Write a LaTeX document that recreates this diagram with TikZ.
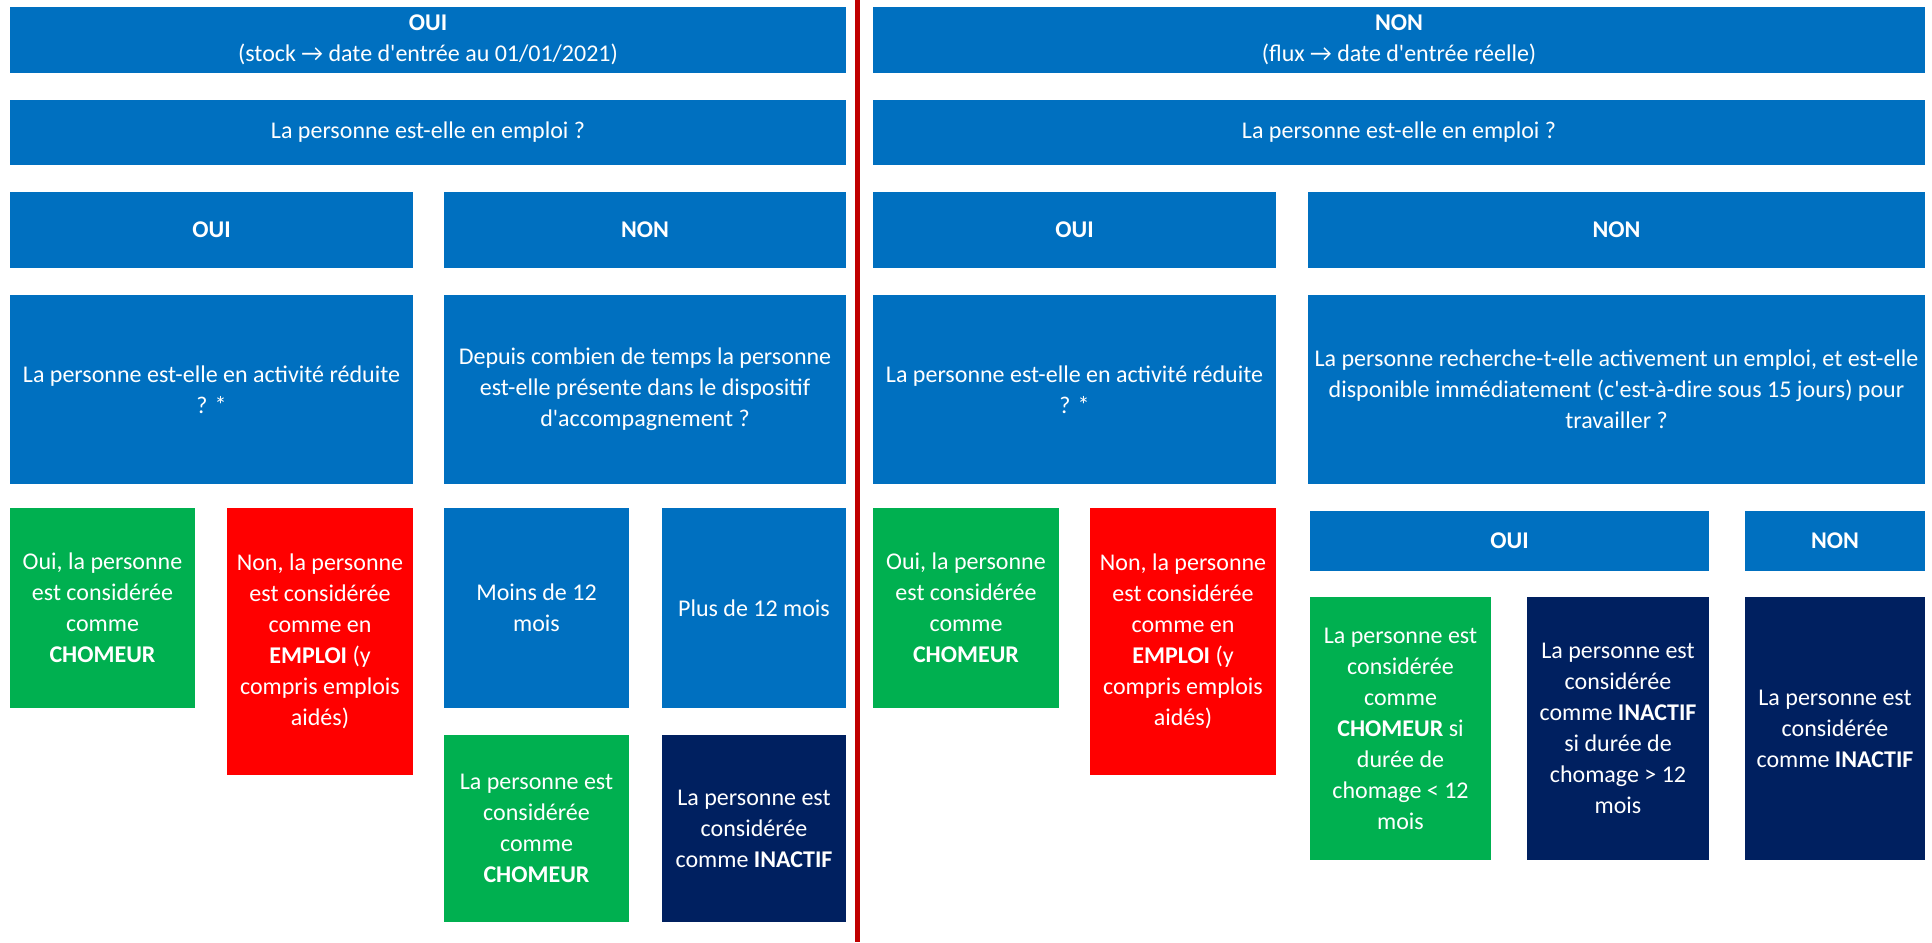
\documentclass[tikz,border=0pt]{standalone}
\usepackage{fontspec}
\setmainfont{Carlito}[Ligatures=TeXReset]
\newfontfamily\symbfont{DejaVu Sans}
\definecolor{bleuB}{HTML}{0070C0}
\definecolor{vertB}{HTML}{00B050}
\definecolor{rougeB}{HTML}{FF0000}
\definecolor{marineB}{HTML}{002060}
\definecolor{rougeT}{HTML}{C00000}
\tikzset{
  boite/.style n args={2}{inner sep=0pt,text=white,align=center,
    font=\fontsize{12}{15.5}\selectfont,minimum width=#1,minimum height=#2},
}

\begin{document}
\begin{tikzpicture}[x=0.5pt,y=-0.5pt]
  \useasboundingbox (0,0) rectangle (1932,942);
  % partie gauche : stock
  \node[boite={418pt}{33pt},fill=bleuB] (titreOui) at (428,40)
    {\textbf{OUI}\\(stock → date d'entrée au 01/01/2021)};
  \node[boite={418pt}{32.5pt},fill=bleuB] (emploiQg) at (428,132.5)
    {La personne est-elle en emploi ?};
  \node[boite={201.5pt}{38pt},fill=bleuB] (ouiG) at (211.5,230) {\textbf{OUI}};
  \node[boite={201pt}{38pt},fill=bleuB] (nonG) at (645,230) {\textbf{NON}};
  \node[boite={201.5pt}{94.5pt},fill=bleuB] (activG) at (211.5,389.5)
    {La personne est-elle en activité réduite\\? *};
  \node[boite={201pt}{94.5pt},fill=bleuB] (dureeG) at (645,389.5)
    {Depuis combien de temps la personne\\est-elle présente dans le dispositif\\d'accompagnement ?};
  \node[boite={92.5pt}{100pt},fill=vertB] (chomG) at (102.5,608)
    {Oui, la personne\\est considérée\\comme\\\textbf{CHOMEUR}};
  \node[boite={93pt}{133.5pt},fill=rougeB] (empG) at (320,641.5)
    {Non, la personne\\est considérée\\comme en\\\textbf{EMPLOI} (y\\compris emplois\\aidés)};
  \node[boite={92.5pt}{100pt},fill=bleuB] (moins) at (536.5,608) {Moins de 12\\mois};
  \node[boite={92pt}{100pt},fill=bleuB] (plus) at (754,608) {Plus de 12 mois};
  \node[boite={92.5pt}{93.5pt},fill=vertB] (chomMoins) at (536.5,828.5)
    {La personne est\\considérée\\comme\\\textbf{CHOMEUR}};
  \node[boite={92pt}{93.5pt},fill=marineB] (inactPlus) at (754,828.5)
    {La personne est\\considérée\\comme \textbf{INACTIF}};
  % separation
  \coordinate (sepHaut) at (857,0);
  \coordinate (sepBas) at (857,942);
  \draw[rougeT,line width=2.5pt] (sepHaut) -- (sepBas);
  % partie droite : flux
  \node[boite={526pt}{33pt},fill=bleuB] (titreNon) at (1399,40)
    {\textbf{NON}\\(flux → date d'entrée réelle)};
  \node[boite={526pt}{32.5pt},fill=bleuB] (emploiQd) at (1399,132.5)
    {La personne est-elle en emploi ?};
  \node[boite={201.5pt}{38pt},fill=bleuB] (ouiD) at (1074.5,230) {\textbf{OUI}};
  \node[boite={308.5pt}{38pt},fill=bleuB] (nonD) at (1616.5,230) {\textbf{NON}};
  \node[boite={201.5pt}{94.5pt},fill=bleuB] (activD) at (1074.5,389.5)
    {La personne est-elle en activité réduite\\? *};
  \node[boite={308.5pt}{94.5pt},fill=bleuB] (recherche) at (1616.5,389.5)
    {La personne recherche-t-elle activement un emploi, et est-elle\\disponible immédiatement (c'est-à-dire sous 15 jours) pour\\travailler ?};
  \node[boite={93pt}{100pt},fill=vertB] (chomD) at (966,608)
    {Oui, la personne\\est considérée\\comme\\\textbf{CHOMEUR}};
  \node[boite={93pt}{133.5pt},fill=rougeB] (empD) at (1183,641.5)
    {Non, la personne\\est considérée\\comme en\\\textbf{EMPLOI} (y\\compris emplois\\aidés)};
  \node[boite={199.5pt}{30pt},fill=bleuB] (ouiRech) at (1509.5,541) {\textbf{OUI}};
  \node[boite={90pt}{30pt},fill=bleuB] (nonRech) at (1835,541) {\textbf{NON}};
  \node[boite={90.5pt}{131.5pt},fill=vertB] (chomRech) at (1400.5,728.5)
    {La personne est\\considérée\\comme\\\textbf{CHOMEUR} si\\durée de\\chomage < 12\\mois};
  \node[boite={91pt}{131.5pt},fill=marineB] (inactRech) at (1618,728.5)
    {La personne est\\considérée\\comme \textbf{INACTIF}\\si durée de\\chomage > 12\\mois};
  \node[boite={90pt}{131.5pt},fill=marineB] (inactNon) at (1835,728.5)
    {La personne est\\considérée\\comme \textbf{INACTIF}};
\end{tikzpicture}
\end{document}
